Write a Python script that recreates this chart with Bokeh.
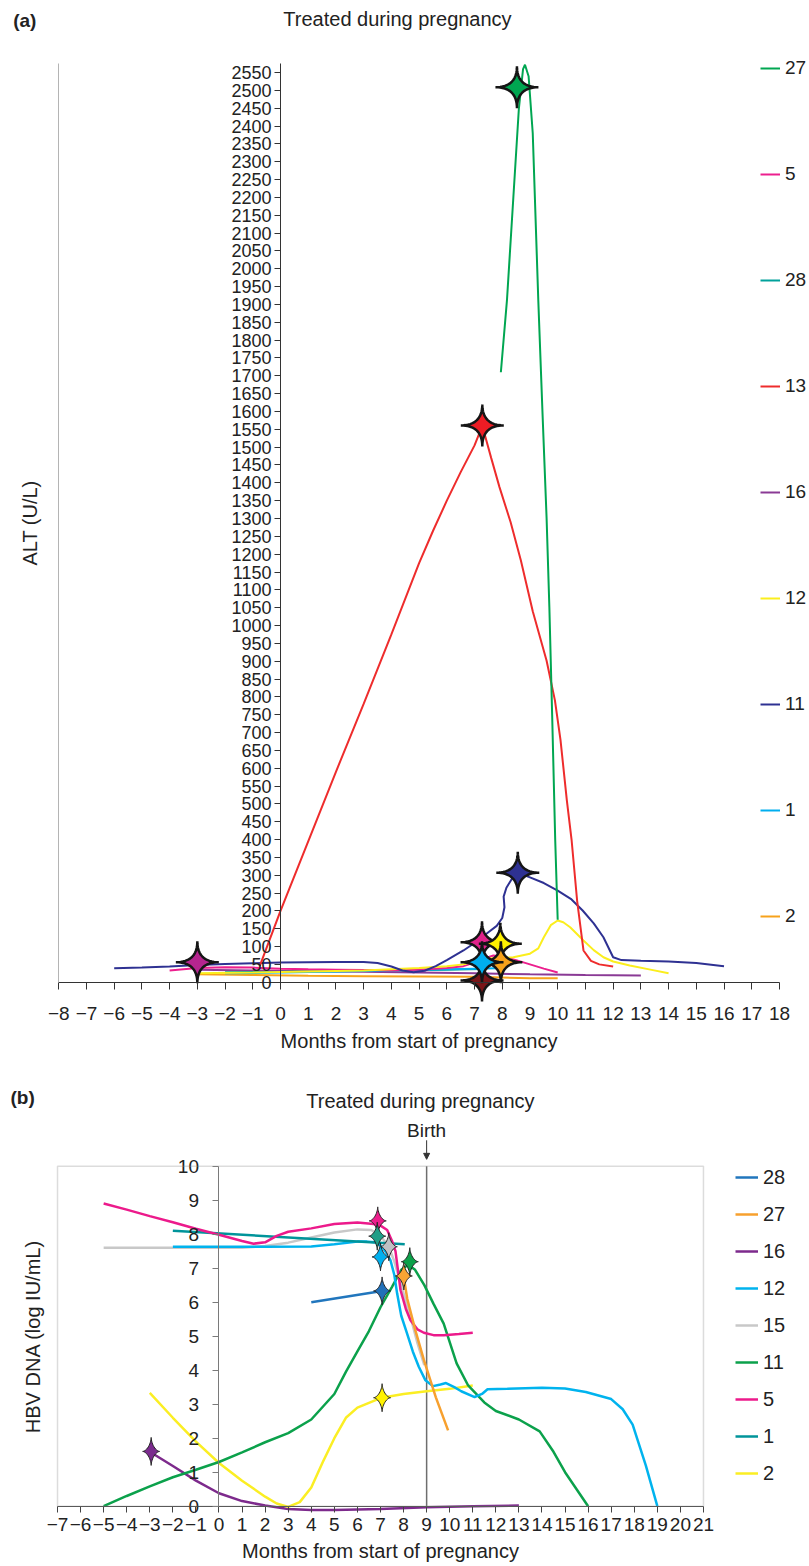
import math
from bokeh.plotting import figure
from bokeh.models import (LinearAxis, FixedTicker, Legend, LegendItem,
                          BoxAnnotation, Arrow, NormalHead, Range1d)
from bokeh.layouts import column
from bokeh.core.properties import value
from bokeh.embed import file_html
from bokeh.resources import INLINE

FONT = "Liberation Sans"

# ================= Panel (a): ALT (U/L) =================
a_month_ticks = list(range(-8, 19))
a_alt_ticks = list(range(0, 2551, 50))
a_legend_order = ["27", "5", "28", "13", "16", "12", "11", "1", "2"]
a_colors = {"27": "#00a651", "5": "#ec1f8e", "28": "#00a19b", "13": "#ee2c2c",
            "16": "#8a3a95", "12": "#fbee1d", "11": "#2e3192", "1": "#00aeef",
            "2": "#f7a21b"}

a27_x = [7.95, 8.17, 8.4, 8.6, 8.75, 8.82, 8.95, 9.1, 9.3, 9.45, 9.6, 9.7, 9.8, 9.91, 10.0]
a27_y = [1710, 1912, 2200, 2450, 2560, 2572, 2540, 2380, 1912, 1600, 1300, 1050, 750, 400, 175]

a13_x = [-0.75, 0, 1, 2, 3, 4, 5, 5.5, 6, 6.5, 7, 7.28, 7.6, 7.9, 8.3, 8.67, 9.1, 9.6,
         9.9, 10.1, 10.33, 10.5, 10.7, 10.93, 11.2, 11.5, 12.0]
a13_y = [45, 200, 395, 590, 780, 975, 1175, 1265, 1350, 1430, 1505, 1560, 1470, 1388,
         1290, 1183, 1040, 901, 790, 680, 510, 400, 229, 89, 60, 50, 44]

a11_x = [-6, -5, -4, -3, -2, -1, 0, 1, 2, 3, 3.5, 4.0, 4.4, 4.8, 5.2, 5.6, 6.0, 6.6, 7.0,
         7.5, 7.8, 8.0, 8.08, 8.05, 8.15, 8.35, 8.56, 8.8, 9.0, 9.5, 10.0, 10.5, 10.9,
         11.3, 11.65, 12.0, 12.3, 13, 14, 15, 16]
a11_y = [39, 41, 44, 48, 51, 53, 55, 56, 57, 57, 54, 44, 33, 28, 32, 45, 62, 89, 110,
         140, 158, 180, 210, 240, 265, 290, 301, 300, 294, 278, 257, 232, 201,
         165, 126, 70, 62, 60, 58, 54, 45]

a12_x = [-3, -1, 1, 3, 5, 6, 6.6, 7.0, 7.32, 7.8, 8.4, 9.0, 9.3, 9.5, 9.75, 10.0, 10.2,
         10.45, 10.93, 11.3, 11.65, 12.0, 12.6, 13.3, 14.0]
a12_y = [25, 27, 30, 33, 40, 45, 50, 58, 65, 68, 70, 80, 95, 126, 160, 173, 168,
         154, 117, 90, 70, 58, 47, 36, 25]

a5_x = [-4, -3, -2, -1, 0, 1, 2, 3, 4, 5, 6, 6.6, 7.0, 7.3, 7.68, 8.0, 8.5, 9.0, 9.5, 10.0]
a5_y = [33, 40, 42, 41, 38, 36, 35, 34, 33, 35, 40, 45, 55, 65, 75, 72, 62, 50, 38, 27]

a16_x = [-3, -1, 1, 3, 5, 7, 9, 11, 13]
a16_y = [35, 33, 31, 29, 27, 25, 22, 20, 19]

a28_x = [-2, 0, 2, 4, 6, 7.27]
a28_y = [28, 29, 31, 33, 35, 37]

a1_x = [-2, 0, 2, 4, 6, 7.0, 7.8]
a1_y = [25, 27, 30, 33, 36, 38, 39]

a2_x = [-3, -1, 1, 3, 5, 7, 8, 9, 10]
a2_y = [22, 20, 18, 17, 16, 15, 13, 11, 11]

a_series = {"2": (a2_x, a2_y), "16": (a16_x, a16_y), "28": (a28_x, a28_y),
            "1": (a1_x, a1_y), "5": (a5_x, a5_y), "12": (a12_x, a12_y),
            "11": (a11_x, a11_y), "13": (a13_x, a13_y), "27": (a27_x, a27_y)}

a_star_x = [-3.0, 7.27, 7.27, 7.93, 7.95, 7.27, 8.56, 7.28, 8.53]
a_star_y = [56, 5, 112, 108, 56, 56, 307, 1561, 2509]
a_star_color = ["#b5258f", "#7a1518", "#e0218a", "#fff200", "#f7a21b", "#00aeef",
                "#2e3192", "#ed1c24", "#00a651"]

# ================= Panel (b): HBV DNA =================
b_month_ticks = list(range(-7, 22))
b_dna_ticks = list(range(0, 11))
b_legend_order = ["28", "27", "16", "12", "15", "11", "5", "1", "2"]
b_colors = {"28": "#2176bd", "27": "#f7a02e", "16": "#7d2a8c", "12": "#00b3ee",
            "15": "#c8c8c8", "11": "#0ba14b", "5": "#ec1a8b", "1": "#00949a",
            "2": "#fbee23"}

b2_x = [-3, -2, -1, 0, 1, 2, 2.5, 3, 3.5, 4, 4.5, 5, 5.5, 6, 7, 8, 9, 10, 11]
b2_y = [3.33, 2.6, 1.9, 1.27, 0.75, 0.28, 0.08, -0.02, 0.12, 0.55, 1.3, 2.0, 2.6, 2.9,
        3.18, 3.3, 3.38, 3.45, 3.55]

b16_x = [-3, -2, -1, 0, 1, 2, 3, 4, 5, 7, 9, 11, 13]
b16_y = [1.6, 1.18, 0.75, 0.38, 0.15, 0.02, -0.08, -0.11, -0.11, -0.08, -0.03, 0.0, 0.02]

b11_x = [-5, -4, -3, -2, -1, 0, 1, 2, 3, 4, 5, 5.5, 6, 6.5, 7, 7.5, 7.9, 8.2, 8.5, 8.9,
         9.3, 9.74, 10.3, 10.8, 11.5, 12, 13, 13.9, 14.5, 15, 15.5, 16]
b11_y = [0, 0.3, 0.58, 0.85, 1.07, 1.3, 1.58, 1.88, 2.15, 2.55, 3.3, 3.95, 4.55, 5.15,
         5.85, 6.45, 6.95, 7.1, 6.95, 6.5, 5.95, 5.37, 4.2, 3.55, 3.05, 2.8, 2.55, 2.2,
         1.6, 1.0, 0.5, 0]

b12_x = [-2, 0, 2, 4, 5, 6, 6.42, 6.8, 7.1, 7.3, 7.43, 7.6, 7.72, 7.9, 8.15, 8.4, 8.66,
         8.95, 9.28, 9.6, 9.84, 10.2, 10.5, 11.08, 11.4, 11.64, 12.5, 14, 15, 15.9, 17,
         17.5, 17.93, 18.5, 19]
b12_y = [7.63, 7.63, 7.63, 7.64, 7.7, 7.78, 7.78, 7.76, 7.6, 7.4, 7.24, 6.8, 6.26, 5.6,
         5.08, 4.55, 4.1, 3.7, 3.53, 3.58, 3.62, 3.5, 3.38, 3.21, 3.3, 3.44, 3.45, 3.48,
         3.46, 3.36, 3.15, 2.85, 2.4, 1.2, 0]

b15_x = [-5, -3, -1, 1, 2, 3, 4, 5, 6, 6.6, 7.0, 7.36, 7.6, 7.87, 8.3, 8.6, 8.9]
b15_y = [7.6, 7.6, 7.6, 7.6, 7.65, 7.75, 7.9, 8.05, 8.14, 8.12, 7.95, 7.63, 7.2, 6.55,
         5.57, 4.8, 4.15]

b1_x = [-2, 8.05]
b1_y = [8.1, 7.7]

b5_x = [-5, -4, -3, -2, -1, 0, 1, 1.5, 2, 2.5, 3, 4, 5, 6, 6.7, 7.0, 7.29, 7.5, 7.65,
        7.87, 8.1, 8.3, 8.6, 8.88, 9.3, 9.75, 10.4, 11]
b5_y = [8.9, 8.72, 8.53, 8.35, 8.16, 7.98, 7.8, 7.72, 7.76, 7.95, 8.07, 8.17, 8.3, 8.34,
        8.3, 8.25, 8.12, 7.8, 7.5, 6.35, 5.8, 5.47, 5.2, 5.1, 5.03, 5.03, 5.06, 5.1]

b27_x = [8.0, 8.16, 8.5, 8.88, 9.4, 9.93]
b27_y = [6.77, 6.1, 5.2, 4.3, 3.2, 2.23]

b28_x = [4.0, 7.07]
b28_y = [6.0, 6.33]

b_series = {"16": (b16_x, b16_y), "2": (b2_x, b2_y), "11": (b11_x, b11_y),
            "15": (b15_x, b15_y), "12": (b12_x, b12_y), "1": (b1_x, b1_y),
            "5": (b5_x, b5_y), "28": (b28_x, b28_y), "27": (b27_x, b27_y)}

b_star_x = [-2.94, 7.07, 6.88, 6.86, 7.36, 7.0, 7.07, 8.01, 8.27]
b_star_y = [1.61, 3.19, 8.39, 7.94, 7.63, 7.33, 6.33, 6.77, 7.19]
b_star_color = ["#7b2b8e", "#fff200", "#ec1e8c", "#1f9e86", "#c0c0c4", "#00b0ef",
                "#2170b8", "#f9a533", "#0ca14a"]


def minus(t):
    return "\u2212" + str(-t) if t < 0 else str(t)


def star_poly(cx, cy, rx, ry, kx, ky, p, n=72):
    xs, ys = [], []
    for i in range(n):
        t = 2 * math.pi * i / n
        c, s = math.cos(t), math.sin(t)
        xs.append(cx + rx / kx * math.copysign(abs(c) ** p, c))
        ys.append(cy + ry / ky * math.copysign(abs(s) ** p, s))
    return xs, ys


def style_axis(ax, color="#333333", size="18px", label_size="20px"):
    ax.major_label_text_font = FONT
    ax.major_label_text_font_size = size
    ax.major_label_text_color = "#222222"
    ax.axis_label_text_font = FONT
    ax.axis_label_text_font_size = label_size
    ax.axis_label_text_font_style = "normal"
    ax.axis_label_text_color = "#222222"
    ax.axis_line_color = color
    ax.major_tick_line_color = color
    ax.minor_tick_line_color = None
    ax.minor_tick_out = 0
    ax.major_tick_in = 0


def txt(p, x, y, s, size="20px", bold=False, align="center"):
    p.text(x=[x], y=[y], text=[s], text_font=value(FONT),
           text_font_size=value(size), text_align=align, text_baseline="middle",
           text_color="#222222", text_font_style="bold" if bold else "normal")


# ---------------- figure (a) ----------------
KXA, KYA = 27.72, 0.3567   # px per month, px per U/L
pa = figure(width=809, height=1066, x_range=Range1d(-10.101, 19.084),
            y_range=Range1d(-236.3, 2752.2), output_backend="svg",
            toolbar_location=None, min_border=0)
pa.outline_line_color = None
pa.grid.visible = False

xa = pa.xaxis[0]
style_axis(xa, size="19px")
xa.fixed_location = 0
xa.bounds = (-8, 18)
xa.ticker = FixedTicker(ticks=a_month_ticks)
xa.major_label_overrides = {t: minus(t) for t in a_month_ticks}
xa.major_tick_out = 7
xa.major_label_standoff = 18
xa.axis_label = "Months from start of pregnancy"
xa.axis_label_standoff = 6

ya = pa.yaxis[0]
style_axis(ya)
ya.fixed_location = 0
ya.bounds = (0, 2575)
ya.ticker = FixedTicker(ticks=a_alt_ticks)
ya.major_tick_out = 6
ya.major_label_standoff = 3

la = LinearAxis(fixed_location=-8, bounds=(0, 2575), ticker=FixedTicker(ticks=[]),
                axis_label="ALT (U/L)")
style_axis(la, color="#b4b4b4")
la.major_tick_out = 0
la.major_label_text_font_size = "0px"
la.axis_label_standoff = 18
pa.add_layout(la, "left")

ra = {}
for k, (xs, ys) in a_series.items():
    ra[k] = pa.line(xs, ys, line_color=a_colors[k], line_width=2)

sx, sy = [], []
for cx, cy in zip(a_star_x, a_star_y):
    X, Y = star_poly(cx, cy, 21.5, 21.0, KXA, KYA, 4.0)
    sx.append(X)
    sy.append(Y)
pa.patches(sx, sy, fill_color=a_star_color, line_color="#151515", line_width=2.5)

txt(pa, -9.643, 2696, "(a)", size="19px", bold=True, align="left")
txt(pa, 4.22, 2701.7, "Treated during pregnancy")

legA = Legend(items=[LegendItem(label=value(k), renderers=[ra[k]]) for k in a_legend_order],
              location=(760, 138), spacing=82, padding=0, margin=0,
              glyph_width=20, glyph_height=24, label_height=24, label_standoff=5,
              label_text_font=FONT, label_text_font_size="19px",
              label_text_color="#222222",
              background_fill_alpha=0, border_line_alpha=0)
pa.add_layout(legA)

# ---------------- figure (b) ----------------
KXB, KYB = 23.07, 34.0
pb = figure(width=809, height=498, x_range=Range1d(-9.471, 25.596),
            y_range=Range1d(-1.715, 12.93), output_backend="svg",
            toolbar_location=None, min_border=0)
pb.outline_line_color = None
pb.grid.visible = False

pb.add_layout(BoxAnnotation(left=-7, right=21, bottom=0, top=10, fill_alpha=0,
                            line_color="#8c8c8c", line_width=1.5))

xb = pb.xaxis[0]
style_axis(xb, color="#444444", size="19px")
xb.fixed_location = 0
xb.bounds = (-7, 21)
xb.ticker = FixedTicker(ticks=b_month_ticks)
xb.major_label_overrides = {t: minus(t) for t in b_month_ticks}
xb.major_tick_out = 6
xb.major_label_standoff = 6
xb.axis_label = "Months from start of pregnancy"
xb.axis_label_standoff = 5

yb = pb.yaxis[0]
style_axis(yb, color="#7a7a7a", size="19px")
yb.fixed_location = 0
yb.bounds = (0, 10)
yb.ticker = FixedTicker(ticks=b_dna_ticks)
yb.major_tick_out = 6
yb.major_label_standoff = 14

lb = LinearAxis(fixed_location=-7, bounds=(0, 10), ticker=FixedTicker(ticks=[]),
                axis_label="HBV DNA (log IU/mL)")
style_axis(lb, color=None)
lb.major_tick_out = 0
lb.major_label_text_font_size = "0px"
lb.axis_label_standoff = 14
pb.add_layout(lb, "left")

pb.segment(x0=[9], y0=[0], x1=[9], y1=[10], line_color="#6e6e6e", line_width=1.5)
pb.add_layout(Arrow(end=NormalHead(size=6, fill_color="#333333", line_color="#333333"),
                    x_start=9, y_start=10.76, x_end=9, y_end=10.2,
                    line_color="#333333", line_width=1))

rb = {}
for k, (xs, ys) in b_series.items():
    rb[k] = pb.line(xs, ys, line_color=b_colors[k], line_width=2.5)

sx, sy = [], []
for cx, cy in zip(b_star_x, b_star_y):
    X, Y = star_poly(cx, cy, 8.5, 14.0, KXB, KYB, 3.2)
    sx.append(X)
    sy.append(Y)
pb.patches(sx, sy, fill_color=b_star_color, line_color="#222222", line_width=1)

txt(pb, -9.04, 12.02, "(b)", size="19px", bold=True, align="left")
txt(pb, 8.73, 11.93, "Treated during pregnancy")
txt(pb, 9.0, 11.05, "Birth", size="19px")

legB = Legend(items=[LegendItem(label=value(k), renderers=[rb[k]]) for k in b_legend_order],
              location=(735, 79), spacing=13, padding=0, margin=0,
              glyph_width=23, glyph_height=24, label_height=24, label_standoff=5,
              label_text_font=FONT, label_text_font_size="20px",
              label_text_color="#222222",
              background_fill_alpha=0, border_line_alpha=0)
pb.add_layout(legB)

layout = column(pa, pb)
open("out.html", "w").write(file_html(layout, INLINE))
